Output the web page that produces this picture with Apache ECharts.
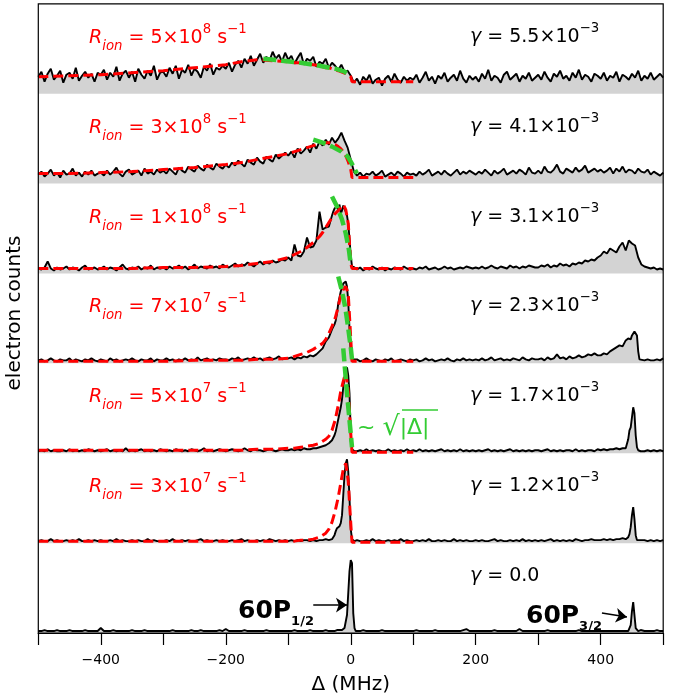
<!DOCTYPE html>
<html>
<head>
<meta charset="utf-8">
<script src="https://cdn.jsdelivr.net/npm/echarts@6/dist/echarts.min.js"></script>
<style>
	html,body{margin:0;padding:0;background:#fff;}
	#chart{width:688px;height:698px;}
</style>
</head>
<body>
<div id="chart"></div>
<script>
	// spectra, one value every 5 MHz from -500 to 500 MHz (height above panel floor)
	const gridStart = -500, gridStep = 5;
	const spec1 = [
		17,22,12,20,25,14,18,23,11,19,21,15,26,13,18,22,16,20,12,21,
		19,24,14,21,17,27,13,20,23,16,22,12,25,19,15,23,18,28,14,21,
		22,17,26,20,28,15,24,21,29,18,25,22,16,27,23,30,19,26,24,28,
		25,31,22,29,33,26,35,30,38,28,34,40,31,37,33,42,35,39,32,41,
		34,38,30,36,41,29,35,33,37,27,32,30,35,26,31,28,24,29,22,23,
		18,11,15,9,17,13,19,10,14,16,8,15,18,12,20,14,11,17,13,16,
		14,19,11,16,22,13,17,10,18,15,21,12,16,19,13,23,15,11,18,14,
		17,12,20,15,24,13,18,16,11,19,22,14,17,20,12,18,15,21,13,16,
		19,14,22,16,12,20,17,23,15,18,13,21,16,24,14,19,17,12,20,18,
		15,21,13,18,16,22,12,19,17,14,20,16,23,13,18,15,21,14,17,20,
		16];
	const spec2 = [
		9,12,7,10,14,8,11,6,13,9,10,15,8,11,7,12,9,13,8,10,
		11,8,13,9,12,16,10,7,12,14,9,11,13,8,15,10,12,9,14,11,
		13,10,15,12,9,16,13,11,17,14,12,18,15,13,19,16,14,20,17,15,
		19,16,21,18,23,20,17,24,21,19,26,22,20,27,24,22,29,25,28,31,
		28,32,26,35,30,33,37,31,40,35,42,38,44,39,46,41,45,51,43,36,
		24,12,8,11,7,10,9,12,8,10,13,7,9,11,8,12,10,7,11,9,
		10,8,12,9,11,14,8,10,12,9,13,10,8,11,14,9,12,10,13,11,
		9,12,10,14,11,8,13,10,12,15,9,11,13,10,14,12,9,16,11,10,
		13,10,17,12,11,14,19,12,10,15,13,11,16,12,14,18,11,13,15,12,
		14,11,13,16,10,15,12,17,11,14,13,10,15,12,11,14,9,12,10,8,
		11];
	const spec3 = [
		5,4,6,12,5,3,6,4,5,7,4,6,5,3,6,8,4,5,6,4,
		5,7,4,6,5,3,6,9,5,4,6,5,7,4,6,5,8,4,6,5,
		6,4,7,5,6,8,5,7,4,6,9,5,7,6,5,8,6,7,5,9,
		7,6,8,10,7,9,8,11,9,7,10,12,9,11,10,13,11,12,14,13,
		16,13,29,18,17,22,36,26,27,33,62,44,46,47,60,64,66,58,66,55,
		20,5,4,6,3,5,4,7,5,4,6,3,5,4,6,5,4,7,5,4,
		5,4,6,5,7,4,5,6,4,5,7,5,6,4,5,6,5,7,6,5,
		6,5,7,5,6,8,6,5,7,6,5,8,6,7,5,7,6,8,7,6,
		6,8,7,9,6,8,7,10,8,9,7,10,9,11,10,13,12,14,13,16,
		18,22,20,25,23,21,27,31,23,33,30,28,16,9,7,6,5,6,4,5,
		4];
	const spec4 = [
		3,4,2,3,5,3,2,4,3,3,5,2,4,3,2,4,3,5,3,2,
		4,3,2,5,3,4,2,3,4,3,5,3,2,4,3,3,5,2,4,3,
		3,5,3,4,2,4,3,5,3,4,3,6,3,4,5,3,4,3,5,4,
		4,3,5,4,6,3,4,5,4,6,4,5,3,5,6,4,5,7,4,5,
		5,6,4,6,5,7,6,8,7,9,12,15,22,26,33,40,52,70,80,76,
		10,3,4,2,3,5,3,2,4,3,2,4,3,5,2,3,4,3,2,4,
		3,4,2,3,5,3,4,2,3,4,3,5,3,2,4,3,5,3,4,3,
		4,3,5,3,4,6,3,4,5,3,4,3,5,4,3,6,4,3,5,4,
		4,5,3,6,4,5,9,5,6,4,7,5,6,8,6,7,9,8,10,8,
		8,10,9,12,14,16,18,17,23,27,28,32,12,4,3,4,3,3,4,3,
		5];
	const spec5 = [
		2,3,2,4,2,3,2,2,3,2,4,2,3,2,3,2,4,3,2,3,
		2,3,4,2,3,2,3,2,5,2,3,2,3,4,2,3,2,3,2,4,
		3,2,3,2,4,3,2,3,2,4,3,2,3,5,2,3,2,3,4,3,
		2,3,4,3,2,3,5,3,2,4,3,3,2,3,4,3,2,3,4,3,
		3,4,3,4,3,5,4,4,5,5,6,7,8,10,14,20,35,50,76,80,
		20,3,2,3,2,4,2,3,2,3,2,2,4,2,3,2,3,2,4,2,
		3,2,4,2,3,2,3,2,3,4,2,3,2,3,2,4,2,3,2,3,
		2,3,2,3,4,2,3,2,3,2,3,4,2,3,2,3,2,3,2,3,
		3,2,3,4,2,3,2,3,2,3,3,2,4,2,3,2,3,3,2,4,
		3,4,3,4,4,5,4,5,6,12,30,40,5,3,2,3,2,3,2,3,
		2];
	const spec6 = [
		2,3,2,2,4,2,3,2,2,3,2,3,2,4,2,2,3,2,3,2,
		3,2,2,3,2,4,2,3,2,2,3,2,3,2,2,4,2,3,2,2,
		2,3,2,4,2,2,3,2,3,2,2,3,4,2,3,2,2,3,2,3,
		2,2,3,2,3,4,2,3,2,2,3,2,3,2,4,3,2,3,2,3,
		2,3,2,3,2,3,3,2,3,2,3,3,4,3,4,5,12,17,60,70,
		10,2,3,2,2,3,2,4,2,3,2,2,3,2,3,2,4,2,3,2,
		2,3,2,3,2,4,2,2,3,2,3,2,2,4,2,3,2,3,2,2,
		3,2,3,2,2,3,4,2,3,2,2,3,2,3,2,4,2,3,2,3,
		2,3,2,3,4,2,3,2,3,2,3,2,4,3,2,3,3,4,3,3,
		3,4,3,4,3,4,4,5,5,8,30,14,3,2,3,2,3,2,3,2,
		3];
	const spec7 = [
		2,2,3,2,2,2,3,2,2,2,3,2,2,2,2,3,2,2,2,2,
		5,2,2,2,3,2,2,2,2,2,3,2,2,2,3,2,2,2,2,2,
		2,2,2,3,2,2,2,2,2,3,2,2,3,2,2,2,2,2,3,2,
		4,2,2,2,2,2,3,2,2,2,2,2,2,3,2,2,2,2,2,2,
		2,2,3,2,2,2,2,3,2,2,2,2,3,2,3,2,2,3,5,7,
		73,8,2,2,3,2,2,2,2,2,3,2,2,2,2,2,2,2,2,2,
		2,3,2,2,2,2,2,3,2,2,2,2,2,2,2,2,3,4,2,2,
		2,2,2,2,2,2,3,2,2,2,2,2,2,2,4,2,2,2,2,2,
		2,2,2,3,2,2,2,2,2,2,2,2,2,3,2,2,2,2,2,2,
		2,2,2,2,2,2,2,2,2,3,20,8,2,2,2,2,2,2,3,2,
		2];

	// finer samples across the narrow lines
	const peakFreq = [-30,-28,-26,-24,-22,-20,-18,-16,-14,-12,-10,-8,-6,-4,-2,0,2,4,6,8];
	const peak3 = [58,62,65,63,67,64,69,60,63,68,66,62,58,50,35,18,7,5,6,4];
	const peak4 = [34,36,39,43,50,60,66,72,76,80,78,82,77,62,35,10,4,3,4,3];
	const peak5 = [13,15,18,22,28,34,40,46,54,66,76,82,86,78,60,20,4,3,2,3];
	const peak6 = [4,5,8,12,15,16,17,20,28,48,68,80,84,72,45,14,4,3,2,3];
	const peak7 = [2,3,2,2,3,2,3,2,3,4,5,7,18,40,62,73,70,20,5,2];
	const sideFreq = [440,442,444,446,448,450,452,454,456,458,460,462,464];
	const side4 = [23,21,25,27,24,28,30,32,34,28,12,4,3];
	const side5 = [5,7,14,23,26,36,46,40,18,6,3,3,2];
	const side6 = [4,5,6,9,16,28,36,24,8,3,2,3,2];
	const side7 = [2,3,2,4,8,22,31,18,5,3,2,2,3];

	// red dashed fits
	const fitFreq = [-500,-450,-400,-350,-300,-250,-200,-175,-150,-125,-100,-90,-80,-70,-60,-50,-45,-40,-35,-30,-25,-20,-16,-12,-8,-4,0,2,4,10,50,100];
	const fit1 = [17,18,19,21,23,26,29,32,34,33,32,31,31,30,29,28,27,26,26,25,24,23,22,21,20,19,17,12,12,12,12,12];
	const fit2 = [10,10,11,12,14,16,19,21,24,27,30,32,34,36,38,40,41,41,41,40,39,37,35,32,28,22,14,6,6,6,6,6];
	const fit3 = [5,5,5,5,6,6,7,8,10,12,16,19,22,26,31,37,41,46,51,56,60,63,66,69,64,50,10,5,5,5,5,5];
	const fit4 = [2,2,2,2,2,3,3,3,4,4,5,7,9,11,14,18,20,24,30,37,45,57,68,74,77,70,25,2,2,2,2,2];
	const fit5 = [3,3,3,3,3,3,3,3,4,4,5,5,6,7,8,10,12,14,17,23,33,48,62,72,81,62,20,1,1,1,1,1];
	const fit6 = [2,2,2,2,2,2,2,2,2,2,2,2,3,3,4,6,8,10,14,21,32,46,60,74,80,62,20,1,1,1,1,1];

	// green dashed sqrt edges
	const greenFreq1 = [-140,-110,-80,-50,-25,-10,-2];
	const green1 = [35,33,31,28,25,22,19];
	const greenFreq2 = [-60,-45,-30,-15,-5,0,5,10];
	const green2 = [44,41,37,32,27,22,16,10];
	const greenFreq3 = [-30,-22,-14,-8,-3,0];
	const green3 = [77,67,54,40,24,9];
	const greenFreq4 = [-20,-14,-9,-4,0,2];
	const green4 = [87,72,57,35,16,4];
	const greenFreq5 = [-12,-6,2];
	const green5 = [105,60,6];

	const rateMant = ['5','3','1','7','5','3'];
	const rateExp = ['8','8','8','7','7','7'];
	const gammaMant = ['5.5','4.1','3.1','2.3','1.7','1.2'];
	const xTickLabels = [-400,-200,0,200,400];

	const plotLeft = 38.3, plotWidth = 624.9, plotTop = 3.8, panelH = 89.89, yMax = 90;
	const font = 'DejaVu Sans';
	const red = '#ff0000', green = '#33cc33';

	const buildSpectrum = (grid, windows) => {
		let pts = [];
		grid.forEach((v, k) => {
			let f = gridStart + k * gridStep;
			let inside = windows.some(w => f >= w[0][0] && f <= w[0][w[0].length - 1]);
			if (!inside) pts.push([f, v]);
		});
		windows.forEach(w => w[0].forEach((f, k) => pts.push([f, w[1][k]])));
		pts.sort((a, b) => a[0] - b[0]);
		return pts;
	};
	const zip = (fs, vs) => fs.map((f, k) => [f, vs[k]]);

	const spectra = [
		buildSpectrum(spec1, []),
		buildSpectrum(spec2, []),
		buildSpectrum(spec3, [[peakFreq, peak3]]),
		buildSpectrum(spec4, [[peakFreq, peak4], [sideFreq, side4]]),
		buildSpectrum(spec5, [[peakFreq, peak5], [sideFreq, side5]]),
		buildSpectrum(spec6, [[peakFreq, peak6], [sideFreq, side6]]),
		buildSpectrum(spec7, [[peakFreq, peak7], [sideFreq, side7]])
	];
	const fits = [fit1, fit2, fit3, fit4, fit5, fit6];
	const greens = [zip(greenFreq1, green1), zip(greenFreq2, green2), zip(greenFreq3, green3), zip(greenFreq4, green4), zip(greenFreq5, green5)];

	const panelTop = i => plotTop + i * panelH;
	const fs = 19, fsSmall = 13.3;

	let grids = [], xAxes = [], yAxes = [], series = [], graphics = [];
	for (let i = 0; i < 7; i++) {
		let last = i == 6;
		grids.push({ left: plotLeft, top: panelTop(i), width: plotWidth, height: panelH, outerBoundsMode: 'none', containLabel: false });
		xAxes.push({
			type: 'value', gridIndex: i, min: -500, max: 500, interval: 100,
			show: last,
			axisLine: { show: last, lineStyle: { color: '#000', width: 1.2 } },
			axisTick: { show: last, length: 12, lineStyle: { color: '#000', width: 1.2 } },
			axisLabel: {
				show: last, margin: 20, fontSize: 14, color: '#000', fontFamily: font,
				formatter: v => xTickLabels.indexOf(v) >= 0 ? String(v).replace('-', '\u2212') : ''
			},
			splitLine: { show: false },
			name: last ? 'Δ (MHz)' : '',
			nameLocation: 'middle', nameGap: 42,
			nameTextStyle: { fontSize: 20, color: '#000', fontFamily: font }
		});
		yAxes.push({ type: 'value', gridIndex: i, min: 0, max: yMax, show: false, splitLine: { show: false } });

		let spec = {
			type: 'line', xAxisIndex: i, yAxisIndex: i, data: spectra[i],
			symbol: 'none', silent: true, z: 2,
			lineStyle: { color: '#000', width: 1.9 },
			areaStyle: { color: '#d3d3d3', opacity: 1, origin: 'start' }
		};
		if (last) {
			spec.markLine = {
				silent: true, symbol: ['none', 'arrow'], symbolSize: 11, animation: false,
				lineStyle: { color: '#000', width: 1.5, type: 'solid' },
				label: { show: false },
				data: [
					[{ coord: [-60, 28] }, { coord: [-6, 28] }],
					[{ coord: [402, 20] }, { coord: [442, 16] }]
				]
			};
		}
		series.push(spec);
		if (i < 6) {
			series.push({
				type: 'line', xAxisIndex: i, yAxisIndex: i, data: zip(fitFreq, fits[i]),
				symbol: 'none', silent: true, z: 3,
				lineStyle: { color: red, width: 3, type: [10, 5] }
			});
		}
		if (i < 5) {
			series.push({
				type: 'line', xAxisIndex: i, yAxisIndex: i, data: greens[i],
				symbol: 'none', silent: true, z: 4, clip: false,
				lineStyle: { color: green, width: 4.5, type: [13, 5] }
			});
		}

		// gamma label
		let gText = last ? '{g|γ}{n| = 0.0}' : '{g|γ}{n| = ' + gammaMant[i] + '}{op|×}{n|10}{sup|−3}';
		graphics.push({
			type: 'text', silent: true, z: 50,
			style: {
				x: 470, y: panelTop(i) + 33, verticalAlign: 'middle', text: gText,
				rich: {
					g: { fontSize: fs, fontStyle: 'italic', fontFamily: font, fill: '#000', lineHeight: 30, verticalAlign: 'middle' },
					n: { fontSize: fs, fontFamily: font, fill: '#000', lineHeight: 30, verticalAlign: 'middle' },
					op: { fontSize: fs, fontFamily: font, fill: '#000', lineHeight: 30, verticalAlign: 'middle' },
					sup: { fontSize: fsSmall, fontFamily: font, fill: '#000', lineHeight: 18, verticalAlign: 'top' }
				}
			}
		});
		if (!last) {
			graphics.push({
				type: 'text', silent: true, z: 50,
				style: {
					x: 89, y: panelTop(i) + 34, verticalAlign: 'middle',
					text: '{it|R}{sub|ion}{n| = ' + rateMant[i] + '}{op|×}{n|10}{sup|' + rateExp[i] + '}{n| s}{sup|−1}',
					rich: {
						it: { fontSize: fs, fontStyle: 'italic', fontFamily: font, fill: red, lineHeight: 30, verticalAlign: 'middle' },
						n: { fontSize: fs, fontFamily: font, fill: red, lineHeight: 30, verticalAlign: 'middle' },
						op: { fontSize: fs, fontFamily: font, fill: red, lineHeight: 30, verticalAlign: 'middle' },
						sub: { fontSize: fsSmall, fontStyle: 'italic', fontFamily: font, fill: red, lineHeight: 22, verticalAlign: 'bottom' },
						sup: { fontSize: fsSmall, fontFamily: font, fill: red, lineHeight: 18, verticalAlign: 'top' }
					}
				}
			});
		}
	}

	// line labels in the bottom panel
	const boldRich = {
		b: { fontSize: 25, fontWeight: 'bold', fontFamily: font, fill: '#000', lineHeight: 34, verticalAlign: 'middle' },
		bs: { fontSize: 13, fontWeight: 'bold', fontFamily: font, fill: '#000', lineHeight: 18, verticalAlign: 'bottom' }
	};
	graphics.push({ type: 'text', silent: true, z: 50, style: { x: 238, y: 611, verticalAlign: 'middle', text: '{b|60P}{bs|1/2}', rich: boldRich } });
	graphics.push({ type: 'text', silent: true, z: 50, style: { x: 526, y: 616, verticalAlign: 'middle', text: '{b|60P}{bs|3/2}', rich: boldRich } });

	// sqrt annotation
	graphics.push({
		type: 'text', silent: true, z: 50,
		style: {
			x: 357, y: 428, verticalAlign: 'middle', text: '{t|~ }{r|√}{t||Δ|}',
			rich: {
				t: { fontSize: 22, fontFamily: font, fill: green, lineHeight: 34, verticalAlign: 'middle' },
				r: { fontSize: 27, fontFamily: font, fill: green, lineHeight: 34, verticalAlign: 'middle' }
			}
		}
	});
	graphics.push({ type: 'line', silent: true, z: 50, shape: { x1: 402, y1: 410, x2: 438, y2: 410 }, style: { stroke: green, lineWidth: 1.6 } });

	// y label and frame
	graphics.push({ type: 'text', silent: true, z: 50, x: 15, y: 313, rotation: Math.PI / 2, style: { x: 0, y: 0, align: 'center', verticalAlign: 'middle', text: 'electron counts', fontSize: 20, fontFamily: font, fill: '#000' } });
	graphics.push({ type: 'rect', silent: true, z: 60, shape: { x: plotLeft, y: plotTop, width: plotWidth, height: 7 * panelH }, style: { fill: 'none', stroke: '#000', lineWidth: 1.2 } });

	const myChart = echarts.init(document.getElementById('chart'), null, { renderer: 'canvas' });
	myChart.setOption({
		animation: false,
		backgroundColor: '#fff',
		grid: grids,
		xAxis: xAxes,
		yAxis: yAxes,
		series: series,
		graphic: graphics
	});
</script>
</body>
</html>
